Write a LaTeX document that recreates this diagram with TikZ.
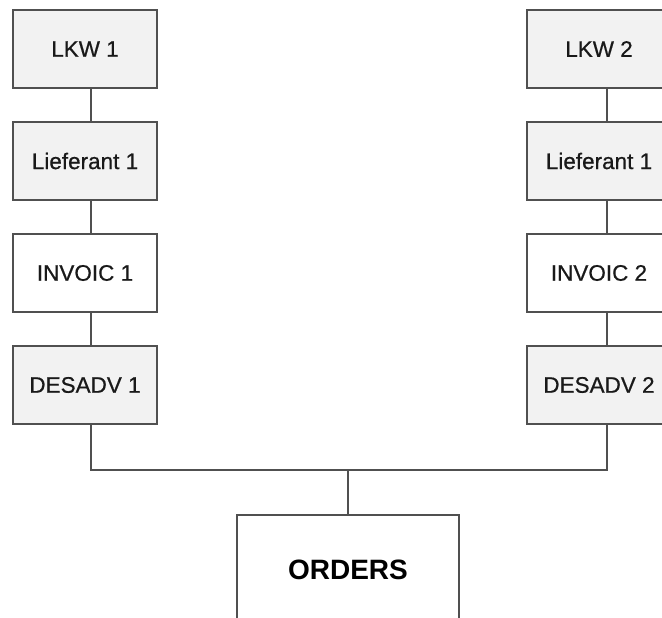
\documentclass[tikz,border=0pt]{standalone}
\usepackage{fontspec}
\setmainfont{Liberation Sans}
\newfontfamily\boxfont[FakeBold=0.6]{Liberation Sans}
\definecolor{boxgray}{HTML}{F2F2F2}
\definecolor{linegray}{HTML}{505050}
\begin{document}
\begin{tikzpicture}[x=1pt,y=-1pt,
  box/.style={draw=linegray,line width=1.5pt,fill=boxgray,minimum width=144pt,minimum height=78pt,inner sep=0pt,font=\boxfont\fontsize{22.5}{26}\selectfont,text=black!90},
  wbox/.style={box,fill=white},
  link/.style={draw=linegray,line width=1.5pt}]
\useasboundingbox (0,0) rectangle (662,618);
\node[box]  (lkw1)  at (85,49)  {LKW 1};
\node[box]  (lief1) at (85,161) {Lieferant 1};
\node[wbox] (inv1)  at (85,273) {INVOIC 1};
\node[box]  (des1)  at (85,385) {DESADV 1};
\node[box]  (lkw2)  at (599,49)  {LKW 2};
\node[box]  (lief2) at (599,161) {Lieferant 1};
\node[wbox] (inv2)  at (599,273) {INVOIC 2};
\node[box]  (des2)  at (599,385) {DESADV 2};
\node[wbox,minimum width=222pt,minimum height=110pt,font=\rmfamily\fontsize{28}{32}\selectfont\bfseries,text=black] (ord) at (348,570) {ORDERS};
\coordinate (jn) at (348,470);
\draw[link] ([xshift=6pt]lkw1.south) -- ([xshift=6pt]lief1.north);
\draw[link] ([xshift=6pt]lief1.south) -- ([xshift=6pt]inv1.north);
\draw[link] ([xshift=6pt]inv1.south) -- ([xshift=6pt]des1.north);
\draw[link] ([xshift=8pt]lkw2.south) -- ([xshift=8pt]lief2.north);
\draw[link] ([xshift=8pt]lief2.south) -- ([xshift=8pt]inv2.north);
\draw[link] ([xshift=8pt]inv2.south) -- ([xshift=8pt]des2.north);
\draw[link] ([xshift=6pt]des1.south) |- (jn) -| ([xshift=8pt]des2.south);
\draw[link] (jn) -- (ord.north);
\end{tikzpicture}
\end{document}
